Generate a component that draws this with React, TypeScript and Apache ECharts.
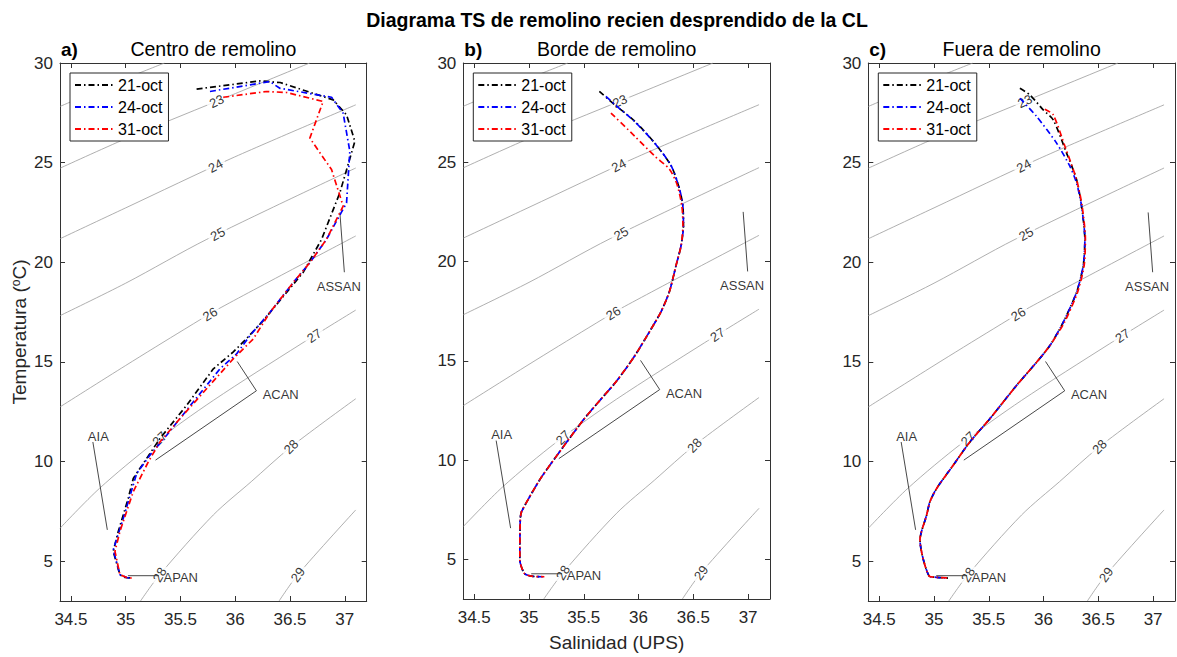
import React, { useEffect, useRef } from 'react';
import * as echarts from 'echarts';

// ---- axes ----
const salinityTicks = [34.5, 35, 35.5, 36, 36.5, 37];
const temperatureTicks = [5, 10, 15, 20, 25, 30];
const salinityRange = [34.4, 37.2];
const temperatureRange = [3, 30];

const dates = ['21-oct', '24-oct', '31-oct'];
const panelTitles = ['Centro de remolino', 'Borde de remolino', 'Fuera de remolino'];
const panelLetters = ['a)', 'b)', 'c)'];

// ---- isopycnals (sigma-t), [salinity, temperature] ----
const sigma22 = [[34.4, 27.82], [35.0, 29.22], [35.354, 30]];
const sigma23 = [[34.4, 24.72], [35.0, 26.2], [35.83, 28.08], [36.68, 30]];
const sigma24 = [[34.4, 21.18], [35.0, 22.73], [35.96, 25.2], [37.1, 27.9]];
const sigma25 = [[34.4, 17.32], [35.0, 18.95], [35.74, 21.15], [37.1, 24.73]];
const sigma26 = [[34.4, 12.74], [35.0, 14.82], [35.54, 16.65], [35.87, 17.73], [37.1, 21.32]];
const sigma27 = [[34.4, 6.65], [34.76, 8.65], [35.25, 10.9], [35.8, 13.07], [36.6, 15.9], [37.1, 17.6]];
const sigma28 = [[35.135, 3], [35.31, 4.32], [35.8, 7.32], [36.146, 8.99], [36.51, 10.74], [37.1, 13.15]];
const sigma29 = [[36.4, 3], [36.571, 4.32], [37.1, 7.57]];
const isopycnals = [sigma22, sigma23, sigma24, sigma25, sigma26, sigma27, sigma28, sigma29];

// contour labels
const contourLabelText = ['23', '24', '25', '26', '27', '27', '28', '28', '29'];
const contourLabelS = [35.83, 35.82, 35.84, 35.77, 36.72, 35.31, 36.51, 35.31, 36.571];
const contourLabelT = [28.08, 24.84, 21.41, 17.4, 16.31, 11.14, 10.74, 4.32, 4.32];

// ---- water mass markers ----
const assanLine = [[36.955, 22.5], [36.996, 19.5]];
const acanLine = [[36.018, 15.02], [36.193, 13.55], [35.272, 10.07]];
const aiaLine = [[34.7, 10.98], [34.832, 6.57]];
const apanLine = [[35.02, 4.27], [35.3, 4.27]];
const waterMassLines = [assanLine, acanLine, aiaLine, apanLine];
const waterMassNames = ['ASSAN', 'ACAN', 'AIA', 'APAN'];
const waterMassS = [36.945, 36.25, 34.75, 35.345];
const waterMassT = [18.8, 13.37, 11.27, 4.2];

// ---- TS profiles: a) centro ----
const centro21 = [[35.647, 28.69], [36.225, 29.1], [36.41, 29.02], [36.894, 28.15], [37.016, 27.4], [37.092, 26.07], [36.955, 23.49], [36.788, 21.15], [36.62, 19.49], [36.26, 17.1], [36.1, 16.15], [35.98, 15.49], [35.8, 14.65], [35.556, 12.82], [35.312, 11.15], [35.069, 9.15], [35.023, 8.15], [34.932, 6.49], [34.886, 5.49], [34.947, 4.32], [34.993, 4.18], [35.054, 4.15]];
const centro24 = [[35.769, 28.57], [36.316, 29.07], [36.407, 28.73], [36.879, 28.28], [36.985, 27.48], [37.046, 25.57], [37.016, 22.98], [36.833, 21.15], [36.681, 19.98], [36.529, 18.98], [36.316, 17.48], [36.134, 16.32], [36.012, 15.4], [35.86, 14.65], [35.616, 12.99], [35.374, 11.32], [35.221, 10.32], [35.1, 9.4], [34.978, 7.15], [34.886, 5.57], [34.947, 4.32], [35.01, 4.18], [35.054, 4.15]];
const centro31 = [[35.89, 28.28], [36.286, 28.57], [36.468, 28.52], [36.802, 28.07], [36.681, 26.23], [36.879, 24.65], [36.985, 22.82], [36.833, 21.15], [36.681, 19.98], [36.529, 18.98], [36.316, 17.48], [36.164, 16.15], [35.981, 15.15], [35.738, 13.65], [35.495, 12.15], [35.312, 10.98], [35.206, 9.98], [35.069, 8.49], [34.947, 6.49], [34.902, 5.49], [34.947, 4.32], [35.01, 4.18], [35.054, 4.15]];

// ---- b) borde ----
const borde21 = [[35.642, 28.57], [35.782, 27.9], [35.964, 27.07], [36.146, 25.98], [36.298, 24.82], [36.374, 23.65], [36.404, 22.82], [36.41, 21.82], [36.389, 20.82], [36.343, 19.82], [36.282, 18.49], [36.207, 17.49], [36.12, 16.65], [35.964, 15.24], [35.8, 13.98], [35.657, 13.07], [35.49, 11.98], [35.201, 9.82], [35.096, 8.99], [34.932, 7.4], [34.92, 6.98], [34.916, 4.98], [34.959, 4.28], [35.023, 4.15], [35.12, 4.12]];
const borde24 = [[35.702, 28.32], [35.79, 27.88], [35.964, 27.05], [36.146, 25.97], [36.298, 24.82], [36.374, 23.65], [36.404, 22.82], [36.41, 21.82], [36.389, 20.82], [36.343, 19.82], [36.282, 18.49], [36.207, 17.49], [36.12, 16.65], [35.964, 15.24], [35.8, 13.98], [35.657, 13.07], [35.49, 11.98], [35.201, 9.82], [35.096, 8.99], [34.932, 7.4], [34.92, 6.98], [34.916, 4.98], [34.959, 4.28], [35.023, 4.15], [35.13, 4.12]];
const borde31 = [[35.748, 27.48], [35.964, 26.32], [36.146, 25.32], [36.282, 24.65], [36.35, 23.9], [36.395, 22.82], [36.405, 21.82], [36.389, 20.82], [36.343, 19.82], [36.282, 18.49], [36.207, 17.49], [36.12, 16.65], [35.964, 15.24], [35.8, 13.98], [35.657, 13.07], [35.49, 11.98], [35.201, 9.82], [35.096, 8.99], [34.932, 7.4], [34.92, 6.98], [34.916, 4.98], [34.959, 4.28], [35.023, 4.15], [35.14, 4.12]];

// ---- c) fuera ----
const fuera21 = [[35.784, 28.73], [35.875, 28.4], [35.997, 27.65], [36.088, 27.15], [36.21, 25.48], [36.301, 24.15], [36.347, 22.82], [36.377, 21.15], [36.362, 19.82], [36.301, 18.49], [36.179, 16.98], [36.058, 15.82], [35.936, 14.98], [35.754, 13.82], [35.51, 12.15], [35.327, 10.98], [35.176, 9.82], [35.024, 8.65], [34.963, 7.99], [34.933, 7.32], [34.872, 6.07], [34.957, 4.24], [35.024, 4.19], [35.13, 4.15]];
const fuera24 = [[35.784, 28.23], [35.936, 27.32], [36.119, 25.98], [36.24, 24.82], [36.301, 23.98], [36.347, 22.82], [36.377, 21.15], [36.362, 19.82], [36.301, 18.49], [36.179, 16.98], [36.058, 15.82], [35.936, 14.98], [35.754, 13.82], [35.51, 12.15], [35.327, 10.98], [35.176, 9.82], [35.024, 8.65], [34.963, 7.99], [34.933, 7.32], [34.872, 6.07], [34.957, 4.24], [35.024, 4.19], [35.13, 4.15]];
const fuera31 = [[36.012, 27.68], [36.088, 27.4], [36.195, 25.82], [36.301, 24.15], [36.352, 22.82], [36.382, 21.15], [36.37, 19.82], [36.31, 18.49], [36.19, 16.98], [36.058, 15.82], [35.936, 14.98], [35.754, 13.82], [35.51, 12.15], [35.327, 10.98], [35.176, 9.82], [35.024, 8.65], [34.963, 7.99], [34.933, 7.32], [34.872, 6.07], [34.957, 4.24], [35.024, 4.19], [35.14, 4.15]];

const profiles = [
  [centro21, centro24, centro31],
  [borde21, borde24, borde31],
  [fuera21, fuera24, fuera31],
];

// ---- layout & style ----
const FONT = "'Liberation Sans', Arial, Helvetica, sans-serif";
const AXIS_COLOR = '#333333';
const TEXT_COLOR = '#262626';
const PANEL_LEFT = [60, 463.3, 868.3];
const PANEL_WIDTH = 306.7;
const PANEL_TOP = 63;
const PANEL_HEIGHT = 538;
const lineColors = ['#000000', '#0000ff', '#ff0000'];
const dashDot = [6, 3, 1.5, 3];
const contourLabelAngles = [25, 28, 29, 32, 34, 44, 46, 60, 54];
const waterMassAlign = ['center', 'left', 'center', 'left'];

function buildOption() {
  const grid: any[] = [];
  const xAxis: any[] = [];
  const yAxis: any[] = [];
  const series: any[] = [];
  const legend: any[] = [];
  const graphic: any[] = [];

  const tickStyle = { show: true, inside: true, length: 5, lineStyle: { color: AXIS_COLOR, width: 1 } };
  const lineStyleAxis = { show: true, onZero: false, lineStyle: { color: AXIS_COLOR, width: 1 } };

  for (let i = 0; i < 3; i++) {
    grid.push({ left: PANEL_LEFT[i], top: PANEL_TOP, width: PANEL_WIDTH, height: PANEL_HEIGHT, containLabel: false });

    xAxis.push({
      type: 'value', gridIndex: i, position: 'bottom',
      min: salinityRange[0], max: salinityRange[1],
      axisLine: lineStyleAxis,
      axisTick: { ...tickStyle, customValues: salinityTicks },
      axisLabel: { show: true, customValues: salinityTicks, margin: 10, fontSize: 17, color: TEXT_COLOR, fontFamily: FONT, formatter: (v: number) => String(v) },
      splitLine: { show: false },
      name: i === 1 ? 'Salinidad (UPS)' : '',
      nameLocation: 'middle', nameGap: 34,
      nameTextStyle: { fontSize: 19, color: TEXT_COLOR, fontFamily: FONT },
    });
    xAxis.push({
      type: 'value', gridIndex: i, position: 'top',
      min: salinityRange[0], max: salinityRange[1],
      axisLine: lineStyleAxis,
      axisTick: { ...tickStyle, customValues: salinityTicks },
      axisLabel: { show: false },
      splitLine: { show: false },
    });
    yAxis.push({
      type: 'value', gridIndex: i, position: 'left',
      min: temperatureRange[0], max: temperatureRange[1],
      axisLine: lineStyleAxis,
      axisTick: { ...tickStyle, customValues: temperatureTicks },
      axisLabel: { show: true, customValues: temperatureTicks, margin: 7, fontSize: 17, color: TEXT_COLOR, fontFamily: FONT },
      splitLine: { show: false },
      name: i === 0 ? 'Temperatura ({sup|o}C)' : '',
      nameLocation: 'middle', nameGap: 31,
      nameTextStyle: {
        fontSize: 19, color: TEXT_COLOR, fontFamily: FONT,
        rich: { sup: { fontSize: 12, verticalAlign: 'top', color: TEXT_COLOR, fontFamily: FONT } },
      },
    });
    yAxis.push({
      type: 'value', gridIndex: i, position: 'right',
      min: temperatureRange[0], max: temperatureRange[1],
      axisLine: lineStyleAxis,
      axisTick: { ...tickStyle, customValues: temperatureTicks },
      axisLabel: { show: false },
      splitLine: { show: false },
    });

    const xi = 2 * i;
    const yi = 2 * i;

    // isopycnal lines
    isopycnals.forEach((pts, k) => {
      series.push({
        type: 'line', name: 'sigma' + (22 + k), xAxisIndex: xi, yAxisIndex: yi,
        data: pts, symbol: 'none', smooth: 0.3, silent: true, z: 1,
        lineStyle: { color: '#9a9a9a', width: 0.8 },
      });
    });
    // isopycnal labels
    series.push({
      type: 'scatter', name: 'sigma-labels', xAxisIndex: xi, yAxisIndex: yi,
      symbolSize: 0, silent: true, z: 2,
      data: contourLabelText.map((t, k) => ({
        name: t, value: [contourLabelS[k], contourLabelT[k]],
        label: { rotate: contourLabelAngles[k] },
      })),
      label: {
        show: true, position: 'inside', formatter: '{b}', fontSize: 13,
        color: '#000000', fontFamily: FONT, backgroundColor: '#ffffff', padding: [0, 3],
      },
    });
    // water mass markers
    waterMassLines.forEach((pts, k) => {
      series.push({
        type: 'line', name: 'marker-' + waterMassNames[k], xAxisIndex: xi, yAxisIndex: yi,
        data: pts, symbol: 'none', silent: true, z: 3,
        lineStyle: { color: '#333333', width: 0.9 },
      });
    });
    series.push({
      type: 'scatter', name: 'water-masses', xAxisIndex: xi, yAxisIndex: yi,
      symbolSize: 0, silent: true, z: 3,
      data: waterMassNames.map((t, k) => ({
        name: t, value: [waterMassS[k], waterMassT[k]],
        label: waterMassAlign[k] === 'left' ? { position: 'right', distance: 0 } : { position: 'inside' },
      })),
      label: { show: true, formatter: '{b}', fontSize: 13, color: '#000000', fontFamily: FONT },
    });
    // TS profiles
    profiles[i].forEach((pts, k) => {
      series.push({
        type: 'line', name: dates[k], xAxisIndex: xi, yAxisIndex: yi,
        data: pts, symbol: 'none', showSymbol: false, smooth: i === 0 ? false : 0.25, z: 5,
        color: lineColors[k],
        lineStyle: { color: lineColors[k], width: 1.7, type: dashDot },
      });
    });

    legend.push({
      show: true, orient: 'vertical', left: PANEL_LEFT[i] + 10, top: PANEL_TOP + 10,
      data: dates, itemWidth: 38, itemHeight: 14, itemGap: 6,
      padding: [4, 6, 4, 4], borderColor: '#262626', borderWidth: 1, backgroundColor: '#ffffff',
      itemStyle: { opacity: 0 },
      textStyle: { fontSize: 16, color: '#000', fontFamily: FONT },
      selectedMode: false,
    });

    graphic.push({
      type: 'text', silent: true,
      style: { text: panelLetters[i], x: PANEL_LEFT[i] + 1, y: 49, textAlign: 'left', textVerticalAlign: 'middle', font: `bold 19px ${FONT}`, fill: '#000' },
    });
    graphic.push({
      type: 'text', silent: true,
      style: { text: panelTitles[i], x: PANEL_LEFT[i] + PANEL_WIDTH / 2, y: 49, textAlign: 'center', textVerticalAlign: 'middle', font: `19.5px ${FONT}`, fill: '#000' },
    });
  }

  graphic.push({
    type: 'text', silent: true,
    style: { text: 'Diagrama TS de remolino recien desprendido de la CL', x: 617, y: 20, textAlign: 'center', textVerticalAlign: 'middle', font: `bold 19.5px ${FONT}`, fill: '#000' },
  });

  return { animation: false, backgroundColor: '#ffffff', grid, xAxis, yAxis, series, legend, graphic };
}

export default function App() {
  const ref = useRef<HTMLDivElement>(null);
  useEffect(() => {
    if (!ref.current) return;
    const chart = echarts.init(ref.current, null, { renderer: 'svg' });
    chart.setOption(buildOption());
    return () => chart.dispose();
  }, []);
  return (
    <div
      ref={ref}
      style={{ position: 'fixed', left: 0, top: 0, width: 1177, height: 657, background: '#ffffff' }}
    />
  );
}
